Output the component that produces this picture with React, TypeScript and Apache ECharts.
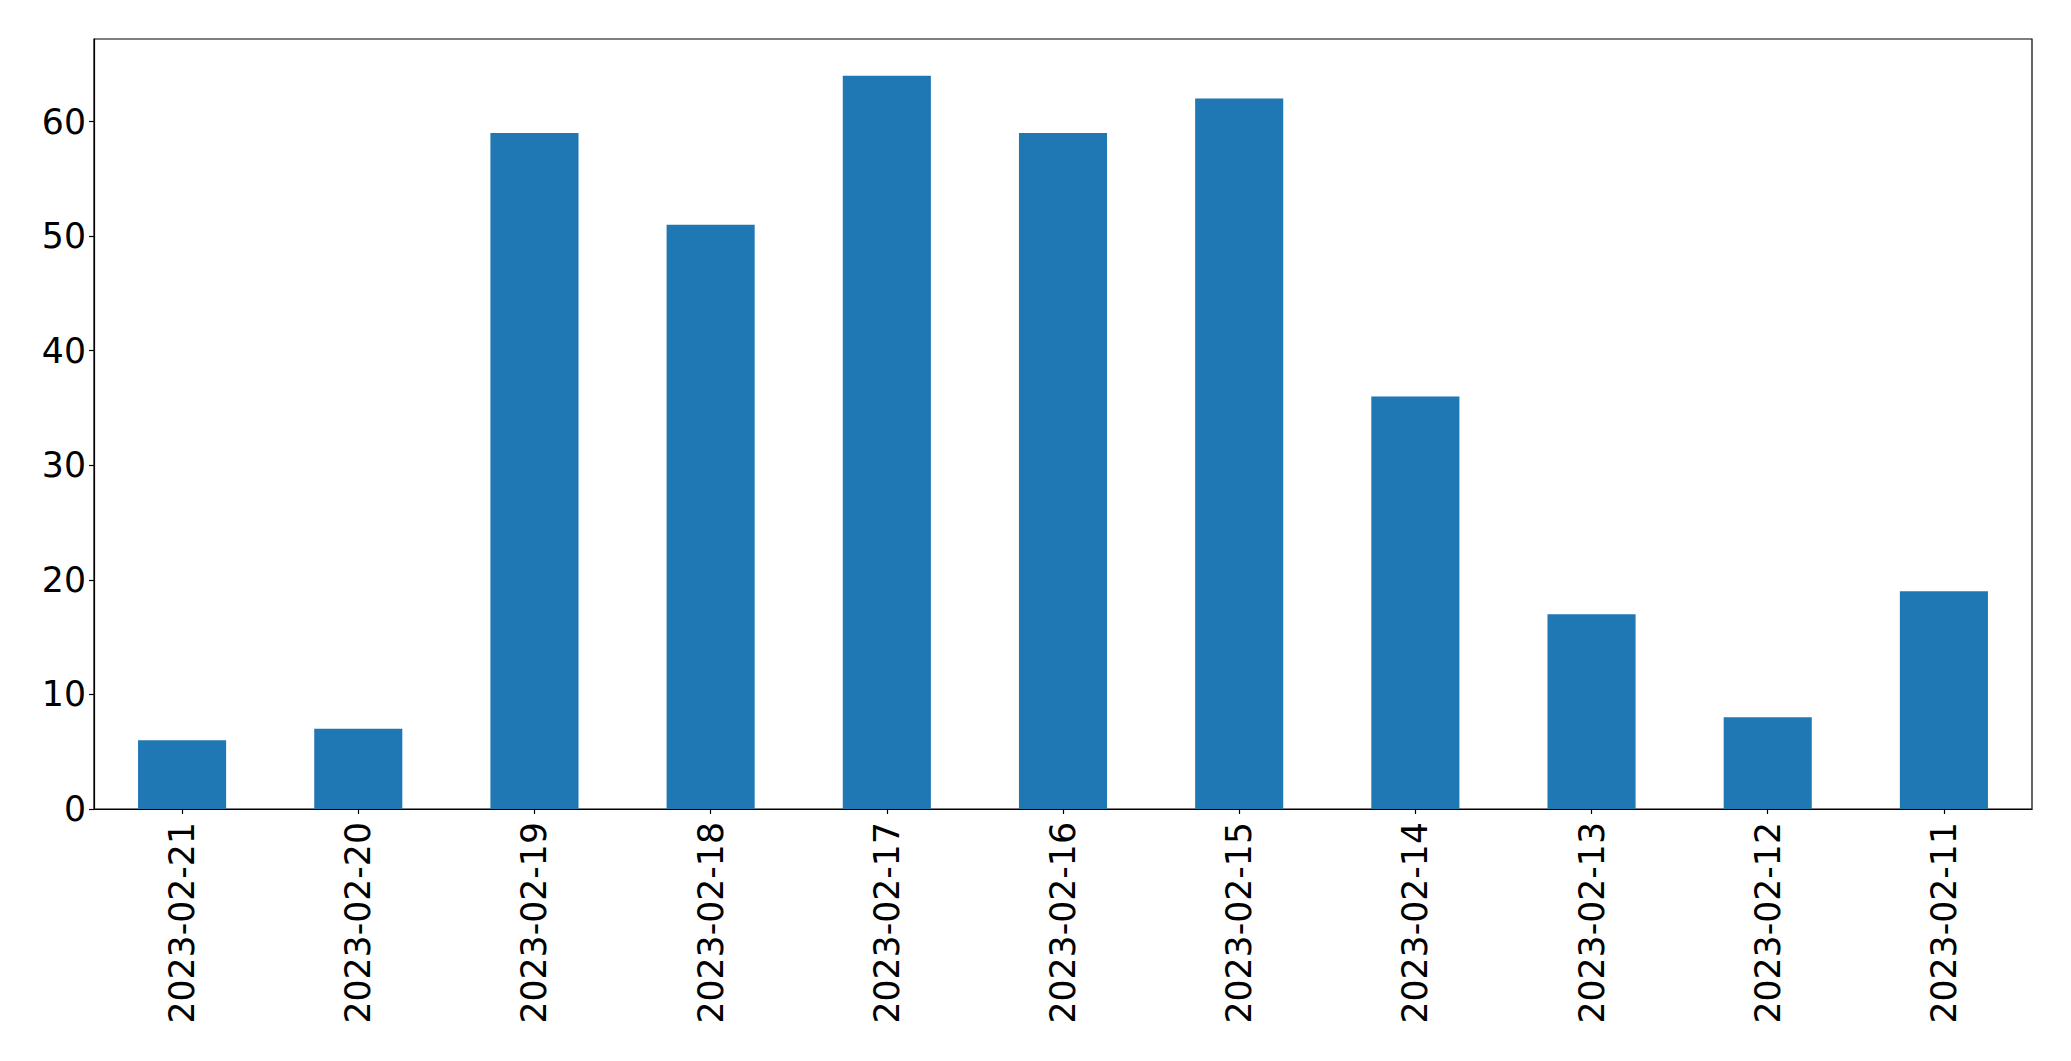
import React, { useEffect, useRef } from "react";
import * as echarts from "echarts";

const categories = [
  "2023-02-21", "2023-02-20", "2023-02-19", "2023-02-18", "2023-02-17", "2023-02-16",
  "2023-02-15", "2023-02-14", "2023-02-13", "2023-02-12", "2023-02-11",
];
const values = [6, 7, 59, 51, 64, 59, 62, 36, 17, 8, 19];
const yMax = 67.2;
const yInterval = 10;

export default function App() {
  const ref = useRef<HTMLDivElement>(null);
  useEffect(() => {
    if (!ref.current) return;
    const chart = echarts.init(ref.current, null, { renderer: "svg" });
    chart.setOption({
      animation: false,
      backgroundColor: "#ffffff",
      grid: {
        left: 94,
        top: 39,
        right: 39,
        bottom: 252,
        show: true,
        borderColor: "#000000",
        borderWidth: 1.2,
        backgroundColor: "transparent",
      },
      xAxis: {
        type: "category",
        data: categories,
        boundaryGap: true,
        axisLine: { show: true, lineStyle: { color: "#000", width: 1.2 } },
        axisTick: { show: true, alignWithLabel: true, length: 5, lineStyle: { color: "#000", width: 1.2 } },
        axisLabel: {
          rotate: 90,
          interval: 0,
          margin: 13,
          fontFamily: "DejaVu Sans",
          fontSize: 34.7,
          color: "#000",
        },
        splitLine: { show: false },
      },
      yAxis: {
        type: "value",
        min: 0,
        max: yMax,
        interval: yInterval,
        axisLine: { show: true, lineStyle: { color: "#000", width: 1.2 } },
        axisTick: { show: true, length: 5, lineStyle: { color: "#000", width: 1.2 } },
        axisLabel: {
          margin: 8,
          fontFamily: "DejaVu Sans",
          fontSize: 34.7,
          color: "#000",
          showMaxLabel: false,
          formatter: (v: number) => (v % yInterval === 0 ? String(v) : ""),
        },
        splitLine: { show: false },
      },
      series: [
        {
          type: "bar",
          data: values,
          barWidth: "50%",
          itemStyle: { color: "#1f77b4" },
        },
      ],
    });
    return () => chart.dispose();
  }, []);
  return (
    <div
      ref={ref}
      style={{ position: "fixed", left: 0, top: 0, width: 2071, height: 1061, background: "#fff" }}
    />
  );
}
